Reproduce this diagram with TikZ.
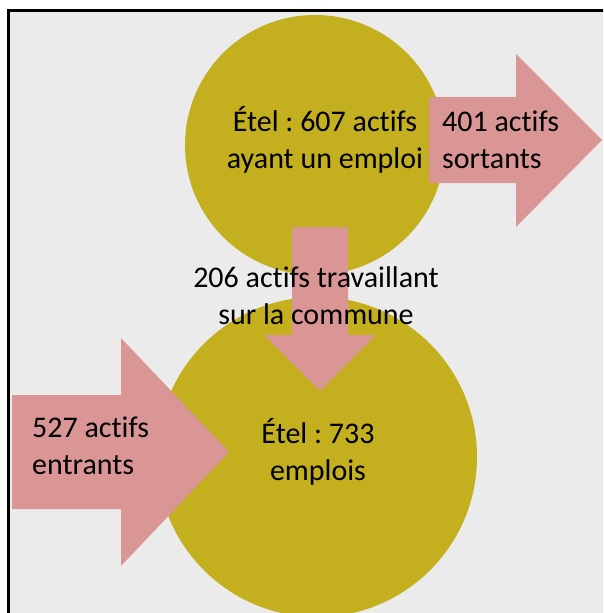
\documentclass[tikz,border=0pt]{standalone}
\usepackage{fontspec}
\setmainfont{Carlito}[Ligatures=NoCommon]
\usepackage{xcolor}
\usepackage{tikz}
\definecolor{paper}{HTML}{EBEBEB}
\definecolor{olive}{HTML}{C4B01F}
\definecolor{flux}{HTML}{DA9694}
\definecolor{ink}{HTML}{000000}
\tikzset{
  commune/.style={fill=olive, draw=none},
  flowarrow/.style={fill=flux, draw=none},
  lab/.style={text=ink, inner sep=0pt, font=\fontsize{30}{37}\selectfont\frenchspacing},
  frame/.style={draw=ink, line width=3pt}
}

\begin{document}
\begin{tikzpicture}[x=1pt, y=-1pt]
  \useasboundingbox (0,0) rectangle (603,613);
  \clip (0,0) rectangle (603,613);
  \fill[paper] (8.5,10.5) rectangle (640,650);

  \coordinate (A) at (315,145);
  \coordinate (B) at (317,457);
  \def\rA{130}
  \def\rB{160}

  \fill[commune] (A) circle (\rA);
  \fill[commune] (B) circle (\rB);

  % flows: out, internal, in
  \fill[flowarrow] (429,97) -- (516,97) -- (516,54) -- (602,140)
    -- (516,227) -- (516,183) -- (429,183) -- cycle;
  \fill[flowarrow] (292,227) -- (348,227) -- (348,335) -- (376,335)
    -- (320,391) -- (264,335) -- (292,335) -- cycle;
  \fill[flowarrow] (12,395) -- (121,395) -- (121,338) -- (229,452)
    -- (121,566) -- (121,509) -- (12,509) -- cycle;

  % base = baseline of the last line
  \node[lab, align=center, anchor=base] (actifs) at (325,168)
    {Étel : 607 actifs\\ayant un emploi};
  \node[lab, align=left, anchor=base west] (sortants) at (442,168)
    {401 actifs\\sortants};
  \node[lab, align=center, anchor=base] (interne) at (316,324)
    {206 actifs travaillant\\sur la commune};
  \node[lab, align=center, anchor=base] (emplois) at (318,480)
    {Étel : 733\\emplois};
  \node[lab, align=left, anchor=base west] (entrants) at (32,474)
    {527 actifs\\entrants};

  \draw[frame] (8.5,650) -- (8.5,10.5) -- (640,10.5);
\end{tikzpicture}
\end{document}
